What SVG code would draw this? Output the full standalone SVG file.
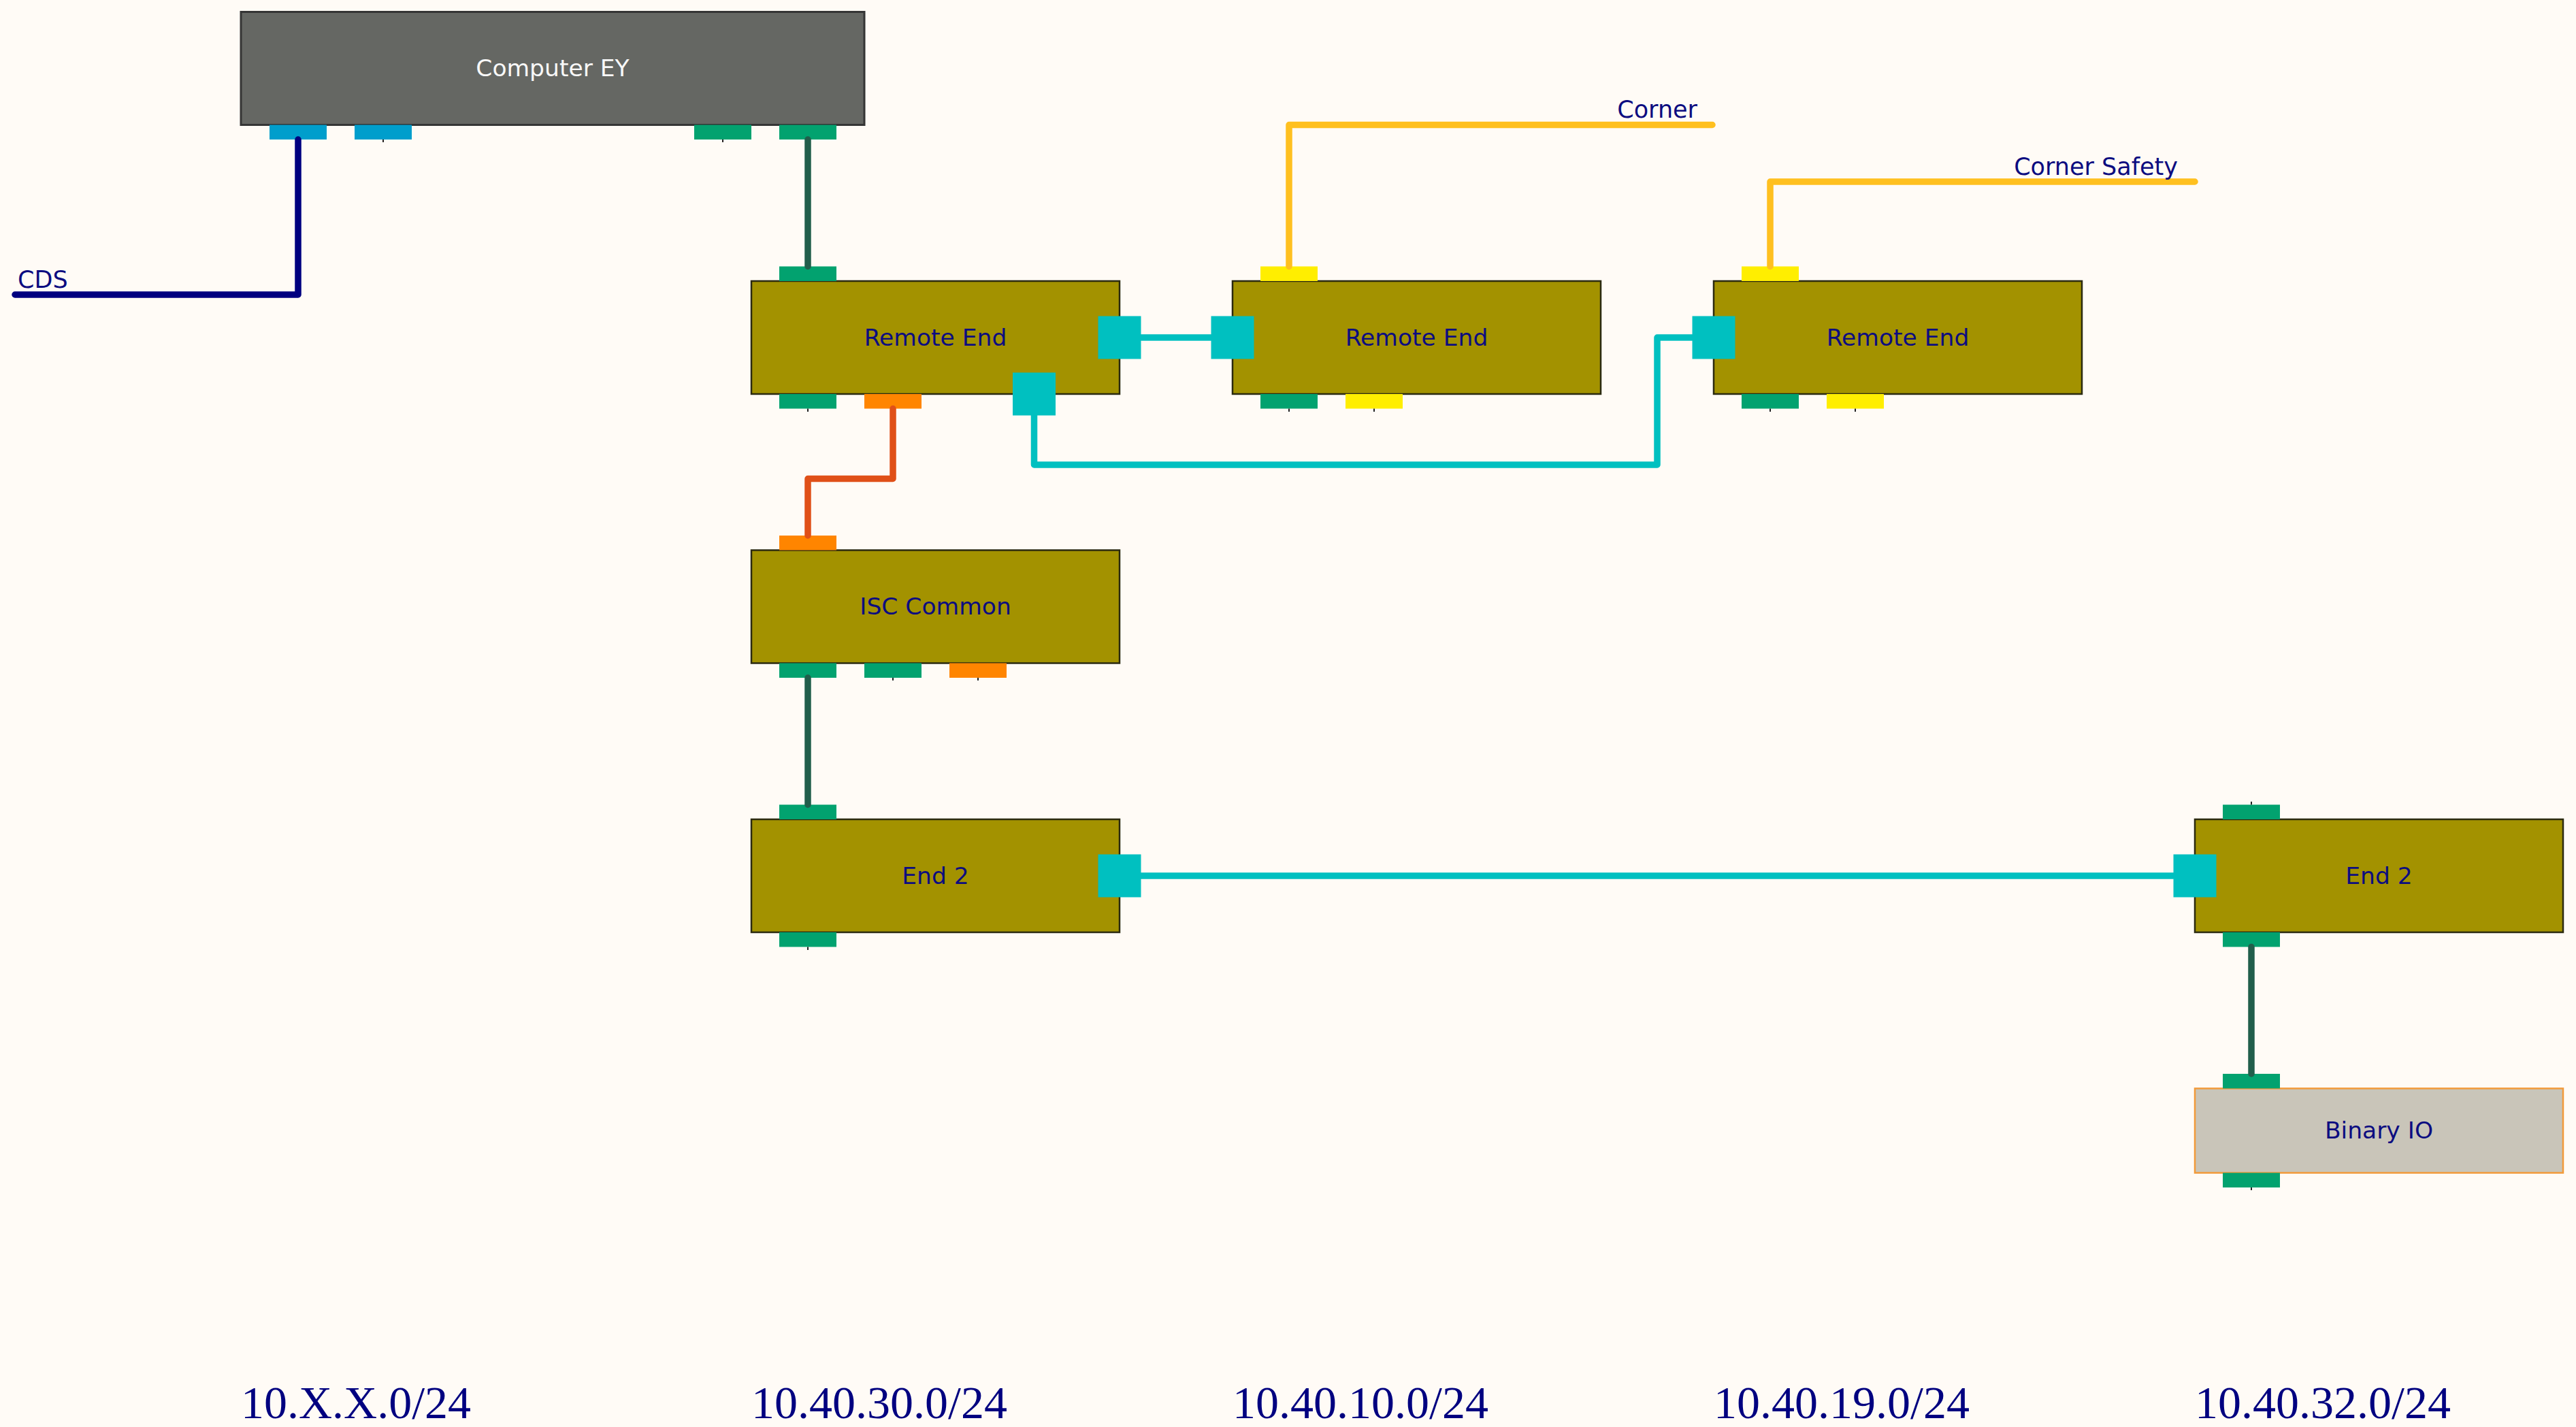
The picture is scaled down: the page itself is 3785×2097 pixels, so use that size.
<svg xmlns="http://www.w3.org/2000/svg" width="3785" height="2097" viewBox="0 0 3785 2097">
<style>
.bg{fill:#fffbf6}
.box{fill:#a39200;stroke:#2b2a10;stroke-width:2.5}
.comp{fill:#656763;stroke:#353535;stroke-width:3}
.bio{fill:#c9c5b9;stroke:#f29a3a;stroke-width:2.5}
.pg{fill:#02a26f}
.pb{fill:#009ecc}
.py{fill:#ffee00}
.po{fill:#ff8500}
.pc{fill:#00c0c0}
.tick{stroke:#222;stroke-width:2}
.nt{font-family:"DejaVu Sans",Verdana,sans-serif;font-size:34.5px;fill:#0c0c80;text-anchor:middle}
.nw{fill:#f8f8f8}
.lbl{font-family:"DejaVu Sans",Verdana,sans-serif;font-size:35px;fill:#0c0c80}
.net{font-family:"Liberation Serif","Times New Roman",serif;font-size:68px;fill:#000080}
.c{fill:none;stroke-width:9.5;stroke-linecap:round;stroke-linejoin:round}
.navy{stroke:#000080}
.dg{stroke:#215e4b}
.or{stroke:#e05018}
.ye{stroke:#ffc020}
.cy{stroke:#00c0c0}
</style>
<rect class="bg" x="0" y="0" width="3785" height="2097"/>

<g id="node-computer-ey">
<rect class="comp" x="354" y="17.5" width="916" height="166"/>
<rect class="pb" x="396" y="183.5" width="84" height="21.5"/>
<rect class="pb" x="521" y="183.5" width="84" height="21.5"/>
<rect class="pg" x="1020" y="183.5" width="84" height="21.5"/>
<rect class="pg" x="1145" y="183.5" width="84" height="21.5"/>
<line class="tick" x1="563" y1="205" x2="563" y2="209"/>
<line class="tick" x1="1062" y1="205" x2="1062" y2="209"/>
<text class="nt nw" x="812" y="112">Computer EY</text>
</g>

<g id="node-remote-end-1">
<rect class="box" x="1104" y="413" width="541" height="166"/>
<rect class="pg" x="1145" y="391.5" width="84" height="21.5"/>
<rect class="pg" x="1145" y="579" width="84" height="21.5"/>
<rect class="po" x="1270" y="579" width="84" height="21.5"/>
<rect class="pc" x="1613.5" y="464.5" width="63" height="63"/>
<rect class="pc" x="1488" y="547.5" width="63" height="63"/>
<line class="tick" x1="1187" y1="600.5" x2="1187" y2="605"/>
<text class="nt" x="1374.5" y="507.5">Remote End</text>
</g>

<g id="node-remote-end-2">
<rect class="box" x="1811" y="413" width="541" height="166"/>
<rect class="py" x="1852" y="391.5" width="84" height="21.5"/>
<rect class="pg" x="1852" y="579" width="84" height="21.5"/>
<rect class="py" x="1977" y="579" width="84" height="21.5"/>
<rect class="pc" x="1779.5" y="464.5" width="63" height="63"/>
<line class="tick" x1="1894" y1="600.5" x2="1894" y2="605"/>
<line class="tick" x1="2019" y1="600.5" x2="2019" y2="605"/>
<text class="nt" x="2081.5" y="507.5">Remote End</text>
</g>

<g id="node-remote-end-3">
<rect class="box" x="2518" y="413" width="541" height="166"/>
<rect class="py" x="2559" y="391.5" width="84" height="21.5"/>
<rect class="pg" x="2559" y="579" width="84" height="21.5"/>
<rect class="py" x="2684" y="579" width="84" height="21.5"/>
<rect class="pc" x="2486.5" y="464.5" width="63" height="63"/>
<line class="tick" x1="2601" y1="600.5" x2="2601" y2="605"/>
<line class="tick" x1="2726" y1="600.5" x2="2726" y2="605"/>
<text class="nt" x="2788.5" y="507.5">Remote End</text>
</g>

<g id="node-isc-common">
<rect class="box" x="1104" y="808.5" width="541" height="166"/>
<rect class="po" x="1145" y="787" width="84" height="21.5"/>
<rect class="pg" x="1145" y="974.5" width="84" height="21.5"/>
<rect class="pg" x="1270" y="974.5" width="84" height="21.5"/>
<rect class="po" x="1395" y="974.5" width="84" height="21.5"/>
<line class="tick" x1="1312" y1="996" x2="1312" y2="1000"/>
<line class="tick" x1="1437" y1="996" x2="1437" y2="1000"/>
<text class="nt" x="1374.5" y="903">ISC Common</text>
</g>

<g id="node-end2-left">
<rect class="box" x="1104" y="1204" width="541" height="166"/>
<rect class="pg" x="1145" y="1182.5" width="84" height="21.5"/>
<rect class="pg" x="1145" y="1370" width="84" height="21.5"/>
<rect class="pc" x="1613.5" y="1255.5" width="63" height="63"/>
<line class="tick" x1="1187" y1="1391.5" x2="1187" y2="1396"/>
<text class="nt" x="1374.5" y="1298.5">End 2</text>
</g>

<g id="node-end2-right">
<rect class="box" x="3225" y="1204" width="541" height="166"/>
<rect class="pg" x="3266" y="1182.5" width="84" height="21.5"/>
<rect class="pg" x="3266" y="1370" width="84" height="21.5"/>
<rect class="pc" x="3193.5" y="1255.5" width="63" height="63"/>
<line class="tick" x1="3308" y1="1178" x2="3308" y2="1182.5"/>
<text class="nt" x="3495.5" y="1298.5">End 2</text>
</g>

<g id="node-binary-io">
<rect class="bio" x="3225" y="1599.5" width="541" height="124"/>
<rect class="pg" x="3266" y="1578" width="84" height="21.5"/>
<rect class="pg" x="3266" y="1723.5" width="84" height="21.5"/>
<line class="tick" x1="3308" y1="1745" x2="3308" y2="1749"/>
<text class="nt" x="3495.5" y="1673">Binary IO</text>
</g>

<g id="connectors">
<path class="c navy" d="M438 205 V433 H22"/>
<path class="c dg" d="M1187 205 V391.5"/>
<path class="c or" d="M1312 600.5 V703.5 H1187 V787"/>
<path class="c cy" d="M1676.5 496 H1779.5"/>
<path class="c cy" d="M1519.5 610.5 V683 H2435 V496 H2486.5"/>
<path class="c ye" d="M1894 391.5 V183.5 H2516"/>
<path class="c ye" d="M2601 391.5 V267 H3225"/>
<path class="c dg" d="M1187 996 V1182.5"/>
<path class="c cy" d="M1676.5 1287 H3193.5"/>
<path class="c dg" d="M3308 1391.5 V1578"/>
</g>

<g id="labels">
<text class="lbl" x="26" y="423">CDS</text>
<text class="lbl" x="2494" y="173" text-anchor="end">Corner</text>
<text class="lbl" x="3200" y="257" text-anchor="end">Corner Safety</text>
</g>

<g id="networks">
<text class="net" x="354" y="2084">10.X.X.0/24</text>
<text class="net" x="1104" y="2084">10.40.30.0/24</text>
<text class="net" x="1811" y="2084">10.40.10.0/24</text>
<text class="net" x="2518" y="2084">10.40.19.0/24</text>
<text class="net" x="3225" y="2084">10.40.32.0/24</text>
</g>
</svg>
